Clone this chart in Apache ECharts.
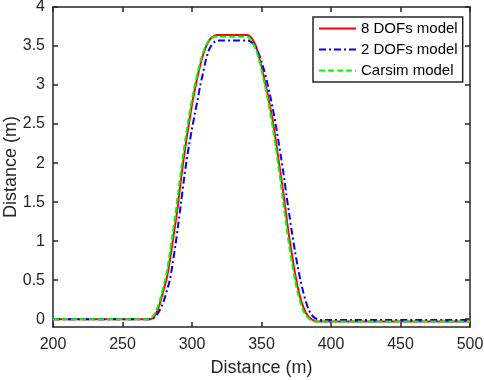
<!DOCTYPE html>
<html>
<head>
<meta charset="utf-8">
<script src="https://cdn.jsdelivr.net/npm/echarts@6/dist/echarts.min.js"></script>
<style>html,body{margin:0;padding:0;background:#fff}#c{width:484px;height:380px}</style>
</head>
<body>
<div id="c"></div>
<script>
var distance = [200, 266, 268, 270, 272, 274, 276, 278, 280, 282, 284, 286, 288, 290, 292, 294, 296, 298, 300, 302, 304, 306, 308, 310, 312, 314, 316, 318, 320, 330, 340, 342, 344, 346, 348, 350, 352, 354, 356, 358, 360, 362, 364, 366, 368, 370, 372, 374, 376, 378, 380, 382, 384, 386, 388, 390, 392, 394, 400, 500];
var dof8 = [0, 0, 0, 0, 0.02, 0.07, 0.15, 0.27, 0.40, 0.54, 0.74, 0.98, 1.22, 1.48, 1.78, 2.05, 2.30, 2.53, 2.75, 2.94, 3.11, 3.26, 3.39, 3.49, 3.56, 3.61, 3.63, 3.64, 3.64, 3.64, 3.64, 3.62, 3.57, 3.50, 3.38, 3.24, 3.08, 2.92, 2.74, 2.55, 2.33, 2.08, 1.83, 1.58, 1.30, 1.04, 0.82, 0.60, 0.42, 0.27, 0.16, 0.08, 0.03, 0.00, -0.02, -0.03, -0.03, -0.03, -0.03, -0.03];
var dof2 = [0, 0, 0, 0, 0.01, 0.04, 0.09, 0.16, 0.25, 0.37, 0.50, 0.70, 0.94, 1.20, 1.48, 1.76, 2.02, 2.24, 2.44, 2.63, 2.81, 3.00, 3.16, 3.32, 3.44, 3.51, 3.55, 3.57, 3.57, 3.57, 3.57, 3.56, 3.53, 3.48, 3.40, 3.30, 3.18, 3.04, 2.88, 2.71, 2.52, 2.30, 2.08, 1.85, 1.58, 1.34, 1.10, 0.88, 0.68, 0.50, 0.35, 0.22, 0.12, 0.06, 0.02, 0.00, -0.01, -0.01, -0.01, -0.01];
var carsim = [0, 0, 0, 0.01, 0.04, 0.10, 0.19, 0.32, 0.46, 0.62, 0.85, 1.09, 1.34, 1.62, 1.90, 2.16, 2.40, 2.62, 2.82, 3.00, 3.16, 3.30, 3.42, 3.51, 3.57, 3.60, 3.62, 3.62, 3.62, 3.62, 3.62, 3.59, 3.53, 3.45, 3.34, 3.19, 3.03, 2.86, 2.67, 2.46, 2.23, 1.98, 1.72, 1.45, 1.18, 0.93, 0.71, 0.51, 0.34, 0.21, 0.11, 0.05, 0.01, -0.02, -0.03, -0.03, -0.03, -0.03, -0.03, -0.03];
var seriesNames = ['8 DOFs model', '2 DOFs model', 'Carsim model'];
var yTicks = [0, 0.5, 1, 1.5, 2, 2.5, 3, 3.5, 4];

function pairs(ys) { return distance.map(function (x, i) { return [x, ys[i]]; }); }

var axisColor = '#262626';
var font = 'Liberation Sans, Arial, sans-serif';
var chart = echarts.init(document.getElementById('c'), null, { renderer: 'canvas' });
chart.setOption({
  animation: false,
  backgroundColor: '#fff',
  textStyle: { fontFamily: font },
  grid: { left: 53, right: 14, top: 7, bottom: 53, containLabel: false, outerBoundsMode: 'none' },
  legend: {
    orient: 'vertical', left: 313, top: 17,
    data: seriesNames,
    backgroundColor: '#fff', borderColor: axisColor, borderWidth: 1.5,
    padding: [4, 5], itemGap: 6, itemWidth: 37, itemHeight: 14,
    lineStyle: { width: 2 },
    itemStyle: { opacity: 0 },
    textStyle: { fontSize: 15, color: '#000', fontFamily: font }
  },
  xAxis: [{
    type: 'value', min: 200, max: 500, interval: 50,
    name: 'Distance (m)', nameLocation: 'middle', nameGap: 32, nameMoveOverlap: false,
    nameTextStyle: { fontSize: 18, color: axisColor, fontFamily: font },
    axisLine: { show: true, onZero: false, lineStyle: { color: axisColor, width: 1.5 } },
    axisTick: { show: true, inside: true, length: 5, lineStyle: { color: axisColor, width: 1.5 } },
    axisLabel: { fontSize: 16, color: axisColor, margin: 10, fontFamily: font },
    splitLine: { show: false }
  }, {
    type: 'value', min: 200, max: 500, interval: 50, position: 'top',
    axisLine: { show: true, onZero: false, lineStyle: { color: axisColor, width: 1.5 } },
    axisTick: { show: true, inside: true, length: 5, lineStyle: { color: axisColor, width: 1.5 } },
    axisLabel: { show: false }, splitLine: { show: false }
  }],
  yAxis: [{
    type: 'value', min: -0.1, max: 4,
    name: 'Distance (m)', nameLocation: 'middle', nameGap: 33, nameMoveOverlap: false,
    nameTextStyle: { fontSize: 18, color: axisColor, fontFamily: font, verticalAlign: 'bottom' },
    axisLine: { show: true, onZero: false, lineStyle: { color: axisColor, width: 1.5 } },
    axisTick: { show: true, inside: true, length: 5, customValues: yTicks, lineStyle: { color: axisColor, width: 1.5 } },
    axisLabel: { fontSize: 16, color: axisColor, margin: 8, customValues: yTicks, fontFamily: font },
    splitLine: { show: false }
  }, {
    type: 'value', min: -0.1, max: 4, position: 'right',
    axisLine: { show: true, onZero: false, lineStyle: { color: axisColor, width: 1.5 } },
    axisTick: { show: true, inside: true, length: 5, customValues: yTicks, lineStyle: { color: axisColor, width: 1.5 } },
    axisLabel: { show: false }, splitLine: { show: false }
  }],
  series: [{
    name: seriesNames[0], type: 'line', data: pairs(dof8), symbol: 'none', smooth: 0.3, z: 2,
    lineStyle: { color: '#ff0000', width: 2, type: 'solid' }, itemStyle: { color: '#ff0000' }
  }, {
    name: seriesNames[1], type: 'line', data: pairs(dof2), symbol: 'none', smooth: 0.3, z: 3,
    lineStyle: { color: '#0000ff', width: 2, type: [7, 3, 2, 3] }, itemStyle: { color: '#0000ff' }
  }, {
    name: seriesNames[2], type: 'line', data: pairs(carsim), symbol: 'none', smooth: 0.3, z: 4,
    lineStyle: { color: '#00ff00', width: 2, type: [6, 3] }, itemStyle: { color: '#00ff00' }
  }]
});
</script>
</body>
</html>
